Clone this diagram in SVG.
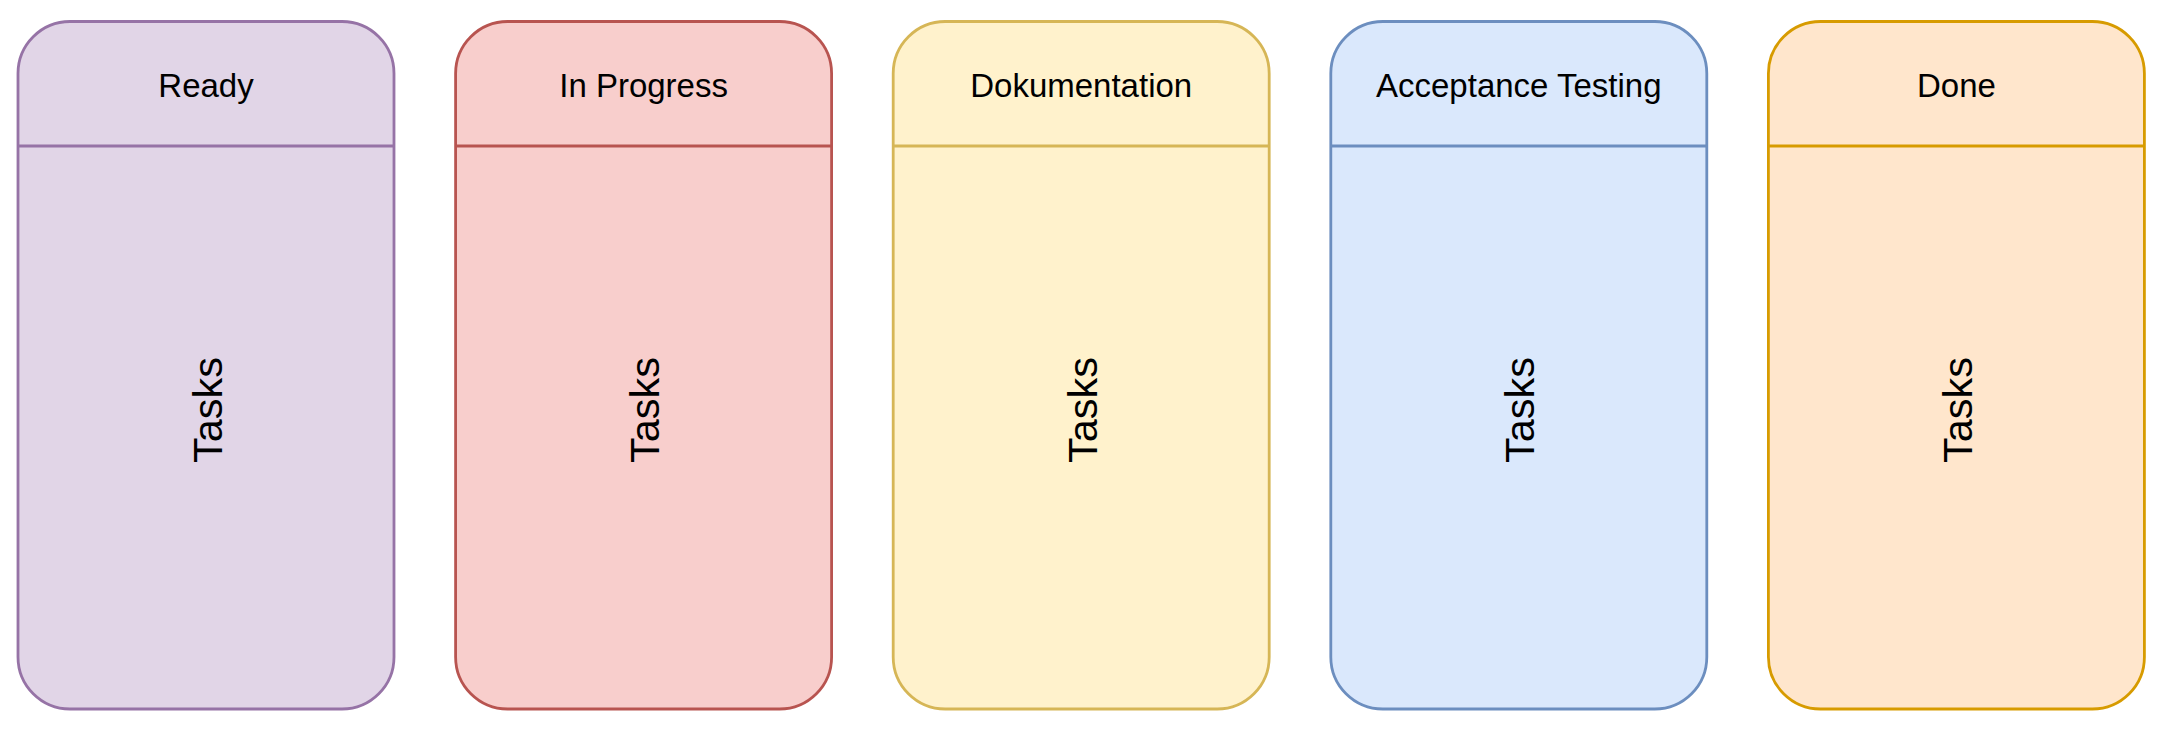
<svg xmlns="http://www.w3.org/2000/svg" width="2167" height="730" viewBox="0 0 2167 730">
<style>
.box{stroke-width:2.8}
.hdr{font-family:"Liberation Sans",Arial,sans-serif;font-size:33px;text-anchor:middle;fill:#000}
.tasks{font-family:"Liberation Sans",Arial,sans-serif;font-size:41.5px;text-anchor:middle;fill:#000}
.purple{fill:#e1d5e7;stroke:#9673a6}
.red{fill:#f8cecc;stroke:#b85450}
.yellow{fill:#fff2cc;stroke:#d6b656}
.blue{fill:#dae8fc;stroke:#6c8ebf}
.orange{fill:#ffe6cc;stroke:#d79b00}
</style>
<rect width="2167" height="730" fill="#ffffff"/>
<g id="ready">
<rect class="box purple" x="18" y="21.5" width="376" height="687.5" rx="52" ry="52"/>
<line class="box purple" x1="18" y1="146" x2="394" y2="146"/>
<text class="hdr" x="206" y="97">Ready</text>
<text class="tasks" transform="translate(221.5,410) rotate(-90)">Tasks</text>
</g>
<g id="inprogress">
<rect class="box red" x="455.6" y="21.5" width="376" height="687.5" rx="52" ry="52"/>
<line class="box red" x1="455.6" y1="146" x2="831.6" y2="146"/>
<text class="hdr" x="643.6" y="97">In Progress</text>
<text class="tasks" transform="translate(659.1,410) rotate(-90)">Tasks</text>
</g>
<g id="dokumentation">
<rect class="box yellow" x="893.2" y="21.5" width="376" height="687.5" rx="52" ry="52"/>
<line class="box yellow" x1="893.2" y1="146" x2="1269.2" y2="146"/>
<text class="hdr" x="1081.2" y="97">Dokumentation</text>
<text class="tasks" transform="translate(1096.7,410) rotate(-90)">Tasks</text>
</g>
<g id="acceptance">
<rect class="box blue" x="1330.8" y="21.5" width="376" height="687.5" rx="52" ry="52"/>
<line class="box blue" x1="1330.8" y1="146" x2="1706.8" y2="146"/>
<text class="hdr" x="1518.8" y="97">Acceptance Testing</text>
<text class="tasks" transform="translate(1534.3,410) rotate(-90)">Tasks</text>
</g>
<g id="done">
<rect class="box orange" x="1768.4" y="21.5" width="376" height="687.5" rx="52" ry="52"/>
<line class="box orange" x1="1768.4" y1="146" x2="2144.4" y2="146"/>
<text class="hdr" x="1956.4" y="97">Done</text>
<text class="tasks" transform="translate(1971.9,410) rotate(-90)">Tasks</text>
</g>
<g id="connectors"></g>
</svg>
